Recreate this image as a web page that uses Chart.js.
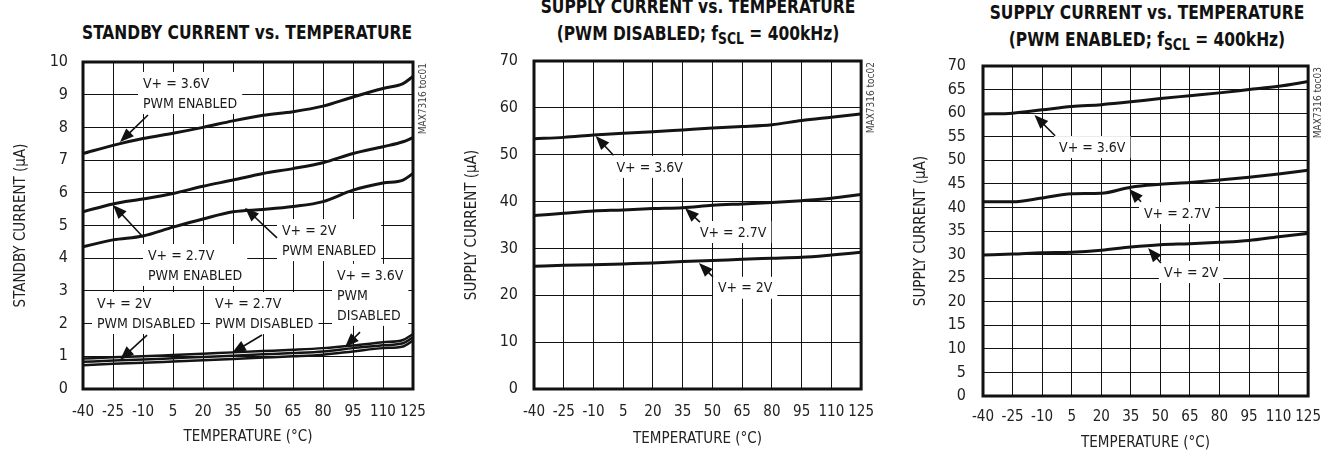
<!DOCTYPE html>
<html>
<head>
<meta charset="utf-8">
<script src="https://cdn.jsdelivr.net/npm/chart.js@4/dist/chart.umd.min.js"></script>
<style>
  body { margin: 0; background: #fff; }
  #page { position: relative; width: 1333px; height: 452px; overflow: hidden; background: #fff; }
  canvas { position: absolute; top: 0; }
  .ttl {
    position: absolute; width: 420px; text-align: center;
    font-family: 'DejaVu Sans Condensed', 'Liberation Sans', sans-serif;
    font-weight: bold; font-size: 20px; line-height: 27px; color: #111; white-space: nowrap;
    transform: scaleX(0.86); transform-origin: 50% 50%;
  }
  .ttl sub { font-size: 16px; vertical-align: -4px; line-height: 0; }
</style>
</head>
<body>
<div id="page">
  <div class="ttl" style="left:37px; top:19px;">STANDBY CURRENT vs. TEMPERATURE</div>
  <div class="ttl" style="left:488px; top:-7px;">SUPPLY CURRENT vs. TEMPERATURE<br>(PWM DISABLED; f<sub>SCL</sub> = 400kHz)</div>
  <div class="ttl" style="left:937px; top:-1px;">SUPPLY CURRENT vs. TEMPERATURE<br>(PWM ENABLED; f<sub>SCL</sub> = 400kHz)</div>
  <canvas id="c1" width="444" height="452" style="left:0px"></canvas>
  <canvas id="c2" width="444" height="452" style="left:444px"></canvas>
  <canvas id="c3" width="445" height="452" style="left:888px"></canvas>
</div>
<script>
// ----- data -----
const tempTicks   = [-40, -25, -10, 5, 20, 35, 50, 65, 80, 95, 110, 125];
const standbyTemps = [-40, -25, -10, 5, 20, 35, 50, 65, 80, 95, 110, 120, 125];
const supplyTemps  = [-40, -25, -10, 5, 20, 35, 50, 65, 80, 95, 110, 125];

// standby current (uA)
const sbEn36  = [7.2, 7.45, 7.66, 7.82, 8.0, 8.2, 8.37, 8.48, 8.65, 8.93, 9.19, 9.34, 9.56];
const sbEn27  = [5.42, 5.66, 5.81, 5.98, 6.2, 6.39, 6.59, 6.74, 6.92, 7.2, 7.41, 7.56, 7.69];
const sbEn20  = [4.35, 4.56, 4.68, 4.95, 5.2, 5.42, 5.49, 5.58, 5.73, 6.08, 6.3, 6.39, 6.59];
const sbDis36 = [0.93, 0.97, 1.0, 1.04, 1.08, 1.12, 1.16, 1.2, 1.25, 1.33, 1.43, 1.5, 1.68];
const sbDis27 = [0.83, 0.87, 0.9, 0.94, 0.98, 1.02, 1.06, 1.1, 1.15, 1.25, 1.34, 1.4, 1.58];
const sbDis20 = [0.73, 0.77, 0.8, 0.84, 0.88, 0.92, 0.96, 1.0, 1.05, 1.15, 1.25, 1.3, 1.48];

// supply current, PWM disabled (uA)
const disV36 = [53.4, 53.7, 54.2, 54.6, 54.9, 55.3, 55.7, 56.0, 56.4, 57.3, 58.0, 58.7];
const disV27 = [37.0, 37.5, 38.0, 38.2, 38.5, 38.7, 39.2, 39.5, 39.8, 40.2, 40.7, 41.5];
const disV20 = [26.2, 26.4, 26.5, 26.7, 26.9, 27.2, 27.4, 27.7, 27.9, 28.1, 28.6, 29.2];

// supply current, PWM enabled (uA)
const enV36 = [59.8, 60.0, 60.7, 61.4, 61.8, 62.4, 63.1, 63.7, 64.3, 65.0, 65.7, 66.7];
const enV27 = [41.2, 41.2, 42.0, 42.9, 43.0, 44.3, 44.9, 45.3, 45.8, 46.4, 47.1, 47.9];
const enV20 = [29.9, 30.1, 30.4, 30.5, 30.9, 31.6, 32.1, 32.3, 32.6, 33.0, 33.8, 34.5];

const yTicks1 = [0, 1, 2, 3, 4, 5, 6, 7, 8, 9, 10];
const yTicks2 = [0, 10, 20, 30, 40, 50, 60, 70];
const yTicks3 = [0, 5, 10, 15, 20, 25, 30, 35, 40, 45, 50, 55, 60, 65, 70];

// callouts: text anchor, arrow tail and head, in data units
const notes1 = [
  { at: [-10, 9.36],  lines: ['V+ = 3.6V', 'PWM ENABLED'],  tail: [-7.5, 8.38], head: [-21.5, 7.55] },
  { at: [-7.5, 4.10], lines: ['V+ = 2.7V', 'PWM ENABLED'],  tail: [-10, 4.65],  head: [-25, 5.63] },
  { at: [59.5, 4.86], lines: ['V+ = 2V', 'PWM ENABLED'],    tail: [57, 4.62],   head: [41, 5.54] },
  { at: [-33, 2.63],  lines: ['V+ = 2V', 'PWM DISABLED'],   tail: [-8, 1.65],   head: [-21.5, 0.89] },
  { at: [26, 2.63],   lines: ['V+ = 2.7V', 'PWM DISABLED'], tail: [49.5, 1.65], head: [34.5, 1.10] },
  { at: [87, 3.49],   lines: ['V+ = 3.6V', 'PWM', 'DISABLED'], tail: [98.5, 1.74], head: [91, 1.28] }
];
const notes2 = [
  { at: [1.6, 47.4],  lines: ['V+ = 3.6V'], tail: [0.1, 49.9],  head: [-8.9, 54.0] },
  { at: [43.7, 33.5], lines: ['V+ = 2.7V'], tail: [43.7, 35.6], head: [36.2, 38.6] },
  { at: [52.8, 21.6], lines: ['V+ = 2V'],   tail: [50.3, 23.9], head: [43.2, 26.9] }
];
const notes3 = [
  { at: [-1.4, 52.8], lines: ['V+ = 3.6V'], tail: [-3.4, 55.2], head: [-13.9, 59.6] },
  { at: [41.7, 38.8], lines: ['V+ = 2.7V'], tail: [40.2, 41.2], head: [34.2, 43.9] },
  { at: [51.8, 26.3], lines: ['V+ = 2V'],   tail: [50.3, 28.2], head: [43.8, 31.4] }
];

const FONT = "'DejaVu Sans Condensed', 'Liberation Sans', sans-serif";

function pts(xs, ys) {
  return xs.map(function(x, i) { return { x: x, y: ys[i] }; });
}

function lineSet(xs, ys, w) {
  return {
    data: pts(xs, ys),
    borderColor: '#141414',
    borderWidth: w || 3,
    pointRadius: 0,
    tension: 0.35,
    cubicInterpolationMode: 'monotone',
    fill: false
  };
}

// frame, callouts, part number tag
function overlay(notes, tag) {
  return {
    id: 'overlay',
    afterDatasetsDraw(chart) {
      const ctx = chart.ctx;
      const a = chart.chartArea;
      const xs = chart.scales.x, ys = chart.scales.y;
      ctx.save();

      ctx.font = '14px ' + FONT;
      const lh = 20;
      notes.forEach(function(n) {
        const px = xs.getPixelForValue(n.at[0]);
        const py = ys.getPixelForValue(n.at[1]);
        let w = 0;
        n.lines.forEach(function(t) { w = Math.max(w, ctx.measureText(t).width); });
        ctx.fillStyle = '#fff';
        ctx.fillRect(px - 5, py - lh / 2 - 1, w + 10, n.lines.length * lh + 2);
        ctx.fillStyle = '#1a1a1a';
        ctx.textBaseline = 'middle';
        ctx.textAlign = 'left';
        n.lines.forEach(function(t, i) { ctx.fillText(t, px, py + i * lh + 1); });

        const tx = xs.getPixelForValue(n.tail[0]), ty = ys.getPixelForValue(n.tail[1]);
        const hx = xs.getPixelForValue(n.head[0]), hy = ys.getPixelForValue(n.head[1]);
        const ang = Math.atan2(hy - ty, hx - tx);
        const L = 14, W = 5.5;
        ctx.strokeStyle = '#111';
        ctx.lineWidth = 1.6;
        ctx.beginPath();
        ctx.moveTo(tx, ty);
        ctx.lineTo(hx - Math.cos(ang) * L * 0.8, hy - Math.sin(ang) * L * 0.8);
        ctx.stroke();
        ctx.fillStyle = '#111';
        ctx.beginPath();
        ctx.moveTo(hx, hy);
        ctx.lineTo(hx - Math.cos(ang) * L - Math.sin(ang) * W, hy - Math.sin(ang) * L + Math.cos(ang) * W);
        ctx.lineTo(hx - Math.cos(ang) * L + Math.sin(ang) * W, hy - Math.sin(ang) * L - Math.cos(ang) * W);
        ctx.closePath();
        ctx.fill();
      });

      ctx.lineWidth = 3;
      ctx.strokeStyle = '#111';
      ctx.strokeRect(a.left, a.top, a.right - a.left, a.bottom - a.top);

      ctx.font = '10px ' + FONT;
      ctx.fillStyle = '#444';
      ctx.translate(a.right + 10, a.top + 1);
      ctx.rotate(-Math.PI / 2);
      ctx.textAlign = 'right';
      ctx.textBaseline = 'middle';
      ctx.fillText(tag, 0, 0);
      ctx.restore();
    }
  };
}

function makeChart(id, opt) {
  const c = document.getElementById(id);
  const cl = opt.canvasLeft;
  const cw = c.width;
  return new Chart(c, {
    type: 'line',
    data: { datasets: opt.series },
    options: {
      responsive: false,
      animation: false,
      devicePixelRatio: 1,
      layout: { padding: { left: 0, top: opt.area.top, right: cl + cw - opt.area.right, bottom: 0 } },
      plugins: { legend: { display: false }, tooltip: { enabled: false }, title: { display: false } },
      scales: {
        x: {
          type: 'linear',
          min: -40, max: 125,
          afterBuildTicks: function(s) { s.ticks = tempTicks.map(function(v) { return { value: v }; }); },
          afterFit: function(s) { s.height = 452 - opt.area.bottom; },
          grid: { color: '#111', lineWidth: 1, drawTicks: false },
          border: { display: false },
          ticks: { color: '#222', padding: opt.xPad, maxRotation: 0, autoSkip: false, font: { family: FONT, size: 15 } },
          title: { display: true, text: 'TEMPERATURE (°C)', color: '#222', font: { family: FONT, size: 15 }, padding: { top: 0, bottom: opt.xTitlePad } }
        },
        y: {
          type: 'linear',
          min: opt.yTicks[0], max: opt.yTicks[opt.yTicks.length - 1],
          afterBuildTicks: function(s) { s.ticks = opt.yTicks.map(function(v) { return { value: v }; }); },
          afterFit: function(s) { s.width = opt.area.left - cl; },
          grid: { color: '#111', lineWidth: 1, drawTicks: false },
          border: { display: false },
          ticks: { color: '#222', padding: opt.yPad, autoSkip: false, font: { family: FONT, size: 16 } },
          title: { display: true, text: opt.yTitle, color: '#222', font: { family: FONT, size: 15 }, padding: { top: opt.yTitlePad, bottom: 0 } }
        }
      }
    },
    plugins: [overlay(opt.notes, opt.tag)]
  });
}

makeChart('c1', {
  canvasLeft: 0,
  area: { left: 83, top: 62, right: 413, bottom: 389 },
  yTicks: yTicks1, yTitle: 'STANDBY CURRENT (µA)',
  xPad: 14, yPad: 15, xTitlePad: 6, yTitlePad: 12,
  notes: notes1, tag: 'MAX7316 toc01',
  series: [
    lineSet(standbyTemps, sbEn36), lineSet(standbyTemps, sbEn27), lineSet(standbyTemps, sbEn20),
    lineSet(standbyTemps, sbDis36, 2.5), lineSet(standbyTemps, sbDis27, 2.5), lineSet(standbyTemps, sbDis20, 2.5)
  ]
});

makeChart('c2', {
  canvasLeft: 444,
  area: { left: 534, top: 61, right: 863, bottom: 389 },
  yTicks: yTicks2, yTitle: 'SUPPLY CURRENT (µA)',
  xPad: 14, yPad: 16, xTitlePad: 4, yTitlePad: 19,
  notes: notes2, tag: 'MAX7316 toc02',
  series: [lineSet(supplyTemps, disV36), lineSet(supplyTemps, disV27), lineSet(supplyTemps, disV20)]
});

makeChart('c3', {
  canvasLeft: 888,
  area: { left: 983, top: 66, right: 1312, bottom: 396 },
  yTicks: yTicks3, yTitle: 'SUPPLY CURRENT (µA)',
  xPad: 12, yPad: 17, xTitlePad: 0, yTitlePad: 24,
  notes: notes3, tag: 'MAX7316 toc03',
  series: [lineSet(supplyTemps, enV36), lineSet(supplyTemps, enV27), lineSet(supplyTemps, enV20)]
});
</script>
</body>
</html>
